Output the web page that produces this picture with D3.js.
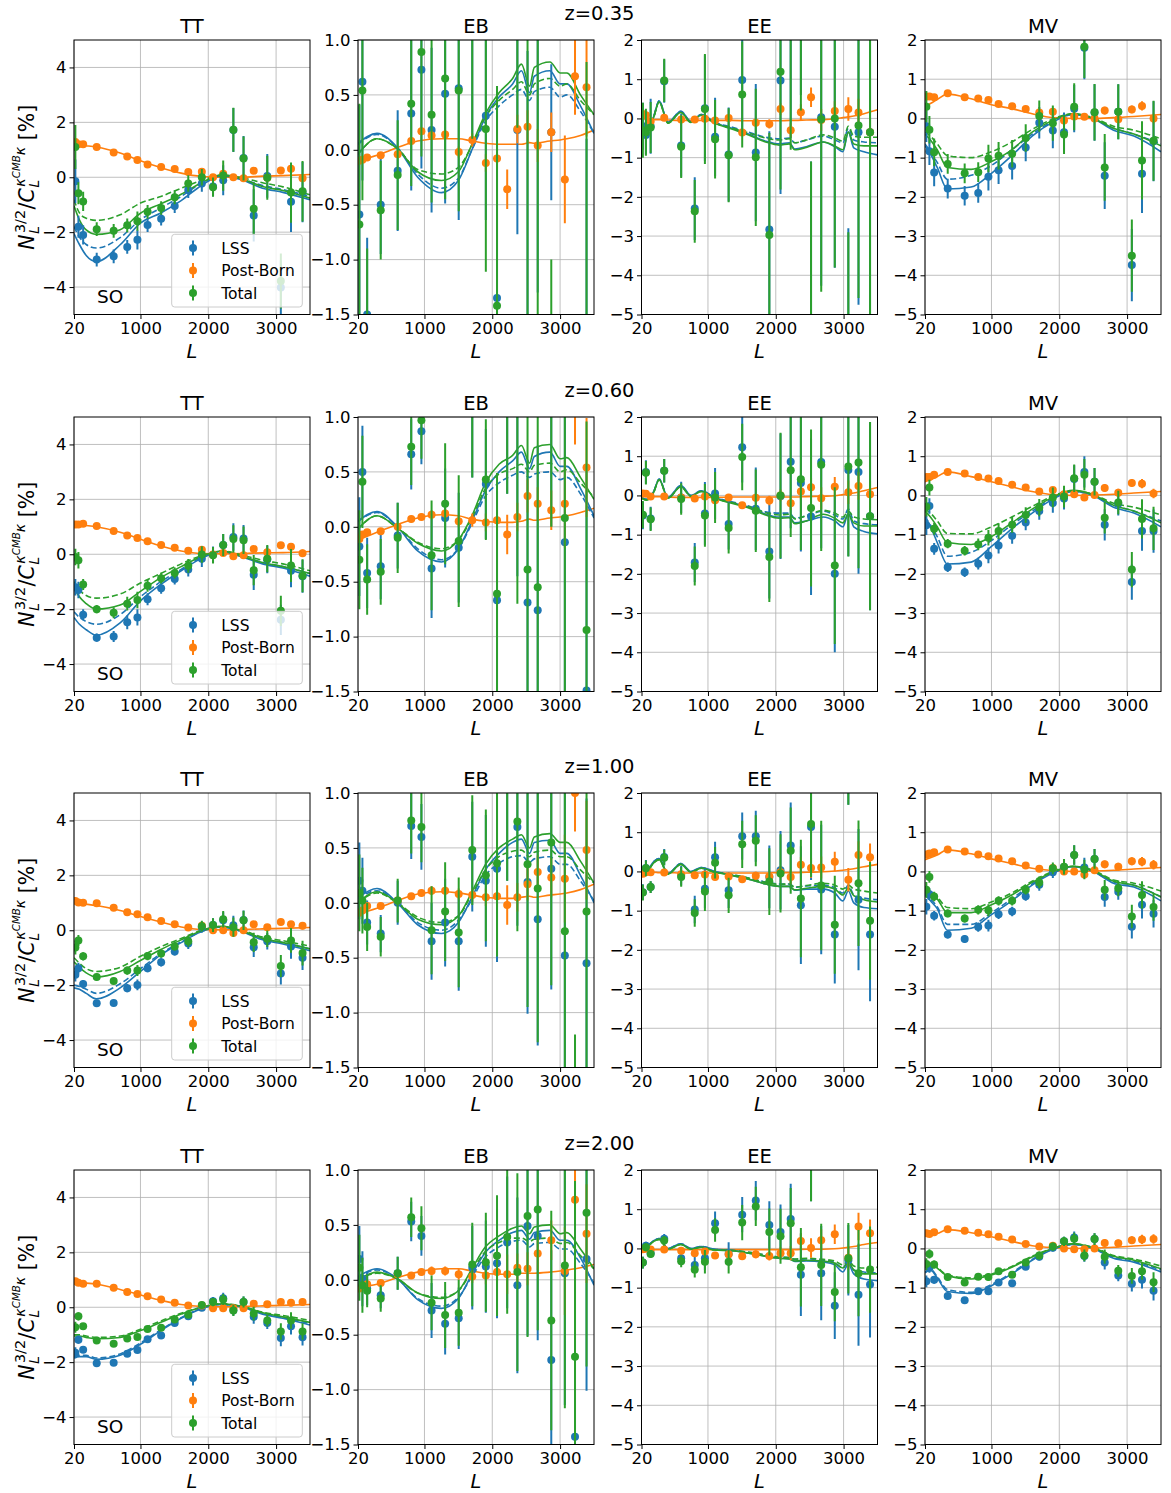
<!DOCTYPE html>
<html>
<head>
<meta charset="utf-8">
<script src="https://cdn.jsdelivr.net/npm/d3@7"></script>
<style>
  body { margin: 0; background: #fff; }
  svg { display: block; }
  text { font-family: "DejaVu Sans", sans-serif; fill: #000; }
</style>
</head>
<body>
<svg id="fig" width="1171" height="1493"></svg>
<script>
// ---------------------------------------------------------------------------
// Binned multipoles and theory-curve sampling points
// ---------------------------------------------------------------------------
const L_BINS = [40, 85, 155, 355, 605, 805, 955, 1105, 1305, 1505, 1705, 1905, 2070, 2220, 2370, 2520, 2670, 2870, 3070, 3220, 3390];
const KNOTS_SMOOTH = [20, 100, 200, 350, 700, 1000, 1300, 1600, 1900, 2200, 2500, 2800, 3100, 3500];
const KNOTS_EB = [20, 300, 600, 900, 1250, 1500, 1700, 1900, 2100, 2300, 2430, 2550, 2620, 2850, 3000, 3100, 3300, 3500];
const KNOTS_EE = [20, 100, 200, 280, 410, 600, 750, 900, 1100, 1350, 1600, 1850, 2050, 2200, 2280, 2450, 2700, 2870, 2990, 3070, 3150, 3300, 3500];

const REDSHIFTS = ["0.35", "0.60", "1.00", "2.00"];
const ESTIMATORS = ["TT", "EB", "EE", "MV"];
const X_TICKS = [20, 1000, 2000, 3000];
const Y_TICKS_TT = [-4, -2, 0, 2, 4];
const Y_TICKS_EB = [-1.5, -1.0, -0.5, 0.0, 0.5, 1.0];
const Y_TICKS_POL = [-5, -4, -3, -2, -1, 0, 1, 2];
const SERIES_LABELS = ["LSS", "Post-Born", "Total"];
const EXPERIMENT = "SO";

// Post-Born error bars per estimator
const PB_ERR_TT = [0.04, 0.04, 0.04, 0.04, 0.04, 0.04, 0.05, 0.05, 0.05, 0.05, 0.06, 0.06, 0.07, 0.08, 0.09, 0.1, 0.1, 0.1, 0.12, 0.12, 0.13];
const PB_ERR_EB = [0.02, 0.02, 0.02, 0.02, 0.03, 0.03, 0.03, 0.04, 0.04, 0.05, 0.06, 0.08, 0.1, 0.18, 0.13, 0.15, 0.15, 0.18, 0.4, 0.35, 0.45];
const PB_ERR_EE = [0.03, 0.03, 0.03, 0.03, 0.04, 0.05, 0.05, 0.06, 0.07, 0.08, 0.1, 0.12, 0.15, 0.18, 0.2, 0.25, 0.28, 0.25, 0.3, 0.35, 0.35];
const PB_ERR_MV = [0.03, 0.03, 0.03, 0.03, 0.03, 0.04, 0.04, 0.04, 0.05, 0.05, 0.06, 0.07, 0.07, 0.08, 0.08, 0.08, 0.1, 0.1, 0.1, 0.12, 0.12];

// ------------------------------- z = 0.35 ----------------------------------
const TT_z035_lss = [-0.15, -1.8, -2.1, -3.0, -2.88, -2.54, -2.28, -1.74, -1.51, -1.05, -0.46, -0.23, -0.34, -0.11, 1.72, 0.7, -1.39, 0.05, -4.02, -0.89, -0.54];
const TT_z035_tot = [1.1, -0.58, -0.88, -1.89, -1.95, -1.75, -1.6, -1.26, -1.12, -0.73, -0.23, 0.0, -0.36, 0.06, 1.73, 0.68, -1.15, -0.02, -3.78, -0.56, -0.51];
const TT_z035_err = [0.8, 0.4, 0.35, 0.25, 0.25, 0.25, 0.35, 0.25, 0.25, 0.25, 0.3, 0.3, 0.35, 0.55, 0.8, 0.8, 0.95, 0.8, 1.0, 1.1, 1.1];
const TT_z035_pb = [1.28, 1.2, 1.2, 1.1, 0.9, 0.76, 0.63, 0.46, 0.37, 0.3, 0.19, 0.2, 0.0, 0.13, 0.0, -0.04, 0.24, -0.02, 0.25, 0.31, -0.04];
const TT_z035_pbLine = [1.2, 1.18, 1.15, 1.1, 0.88, 0.6, 0.35, 0.15, 0.03, 0.0, 0.0, 0.04, 0.06, 0.1];
const TT_z035_lssLine = [-2.05, -2.45, -2.85, -3.07, -2.46, -1.67, -1.3, -0.85, -0.3, 0.06, -0.1, -0.4, -0.55, -0.82];
const TT_z035_lssDash = [-1.8, -2.18, -2.45, -2.58, -2.2, -1.55, -1.12, -0.7, -0.22, 0.06, -0.07, -0.3, -0.45, -0.7];
const TT_z035_totLine = [-1.04, -1.55, -1.92, -2.08, -1.91, -1.31, -0.97, -0.62, -0.2, 0.08, -0.06, -0.34, -0.48, -0.76];
const TT_z035_totDash = [-0.82, -1.3, -1.49, -1.57, -1.37, -0.94, -0.7, -0.4, -0.12, 0.08, -0.02, -0.2, -0.35, -0.64];

const EB_z035_lss = [-0.59, 0.62, -1.5, -0.5, -0.19, 0.33, 0.73, 0.18, 0.51, 0.56, 1.6, 0.31, -1.35, 2.3, 0.18, -1.6, 1.7, 0.16, -2.2, 2.0, -1.9];
const EB_z035_lssErr = [1.0, 0.9, 0.7, 0.45, 0.55, 0.7, 0.9, 0.75, 1.0, 1.2, 1.5, 0.95, 1.9, 1.0, 0.95, 2.5, 3.0, 0.62, 0.5, 0.5, 2.0];
const EB_z035_tot = [-0.68, 0.54, -1.9, -0.55, -0.23, 0.42, 0.89, 0.32, 0.65, 0.54, 1.7, 0.19, -1.42, 2.5, 2.3, -1.8, 1.9, -2.0, -2.3, 2.1, -1.8];
const EB_z035_totErr = [1.1, 1.0, 1.0, 0.45, 0.5, 0.75, 0.95, 0.8, 1.1, 1.1, 1.6, 1.3, 2.0, 1.0, 2.1, 3.0, 3.5, 1.0, 0.6, 0.5, 2.6];
const EB_z035_pb = [-0.1, -0.09, -0.07, -0.05, -0.04, 0.08, 0.17, 0.13, 0.14, -0.02, 0.09, -0.12, -0.08, -0.36, 0.19, 0.21, 0.04, 0.16, -0.27, 0.67, 0.57];
const EB_z035_pbLine = [-0.1, -0.05, 0.02, 0.08, 0.1, 0.1, 0.08, 0.06, 0.05, 0.05, 0.05, 0.065, 0.06, 0.08, 0.09, 0.1, 0.13, 0.18];
const EB_z035_lssLine = [0.06, 0.15, 0.02, -0.25, -0.39, -0.28, 0.0, 0.3, 0.48, 0.6, 0.72, 0.52, 0.67, 0.72, 0.6, 0.6, 0.4, 0.15];
const EB_z035_lssDash = [0.05, 0.14, 0.02, -0.22, -0.35, -0.26, 0.0, 0.26, 0.4, 0.5, 0.55, 0.45, 0.53, 0.57, 0.48, 0.5, 0.35, 0.15];
const EB_z035_totLine = [-0.04, 0.1, 0.01, -0.2, -0.28, -0.2, 0.05, 0.33, 0.52, 0.65, 0.78, 0.58, 0.75, 0.8, 0.7, 0.7, 0.5, 0.32];
const EB_z035_totDash = [-0.04, 0.1, 0.01, -0.18, -0.22, -0.16, 0.04, 0.3, 0.45, 0.55, 0.62, 0.5, 0.6, 0.65, 0.58, 0.6, 0.45, 0.32];

const EE_z035_lss = [-0.2, -0.42, -0.2, 0.95, -0.69, -2.3, 0.26, -0.47, -0.92, 0.98, -0.87, -2.83, 0.97, 3.5, 2.5, -5.5, 0.03, -0.21, -6.0, -0.35, -0.35];
const EE_z035_lssErr = [0.6, 0.5, 0.7, 0.55, 0.8, 0.8, 1.35, 1.0, 1.2, 1.3, 1.75, 2.5, 2.9, 4.0, 1.9, 4.4, 4.3, 3.6, 3.2, 4.4, 6.0];
const EE_z035_tot = [-0.3, -0.35, -0.23, 0.97, -0.72, -2.37, 0.24, -0.53, -0.94, 0.61, -0.99, -2.97, 1.19, 3.2, 3.0, -5.5, -0.02, 0.0, -6.2, -0.18, -0.35];
const EE_z035_totErr = [0.7, 0.6, 0.65, 0.55, 0.8, 0.8, 1.4, 1.0, 1.2, 1.35, 1.75, 2.6, 3.0, 4.0, 2.8, 4.4, 4.4, 3.8, 3.3, 4.4, 6.0];
const EE_z035_pb = [0.11, 0.08, -0.08, 0.02, -0.03, -0.03, -0.01, -0.05, 0.01, -0.36, -0.11, -0.14, 0.24, -0.3, 0.16, 0.54, -0.04, 0.19, 0.24, 0.15, -0.35];
const EE_z035_pbLine = [0.0, -0.02, -0.03, -0.03, -0.04, -0.05, -0.05, -0.05, -0.05, -0.05, -0.06, -0.06, -0.06, -0.05, -0.05, -0.04, -0.03, -0.01, 0.02, 0.04, 0.06, 0.12, 0.22];
const EE_z035_lssLine = [-0.1, -0.3, 0.05, 0.45, -0.1, 0.18, -0.08, 0.1, -0.1, -0.25, -0.4, -0.58, -0.65, -0.62, -0.78, -0.72, -0.6, -0.72, -0.85, -0.35, -0.75, -0.85, -0.93];
const EE_z035_lssDash = [-0.1, -0.3, 0.05, 0.45, -0.1, 0.18, -0.08, 0.1, -0.1, -0.22, -0.35, -0.48, -0.52, -0.5, -0.62, -0.55, -0.45, -0.55, -0.62, -0.25, -0.55, -0.6, -0.62];
const EE_z035_totLine = [-0.12, -0.32, 0.03, 0.42, -0.12, 0.15, -0.1, 0.08, -0.12, -0.27, -0.42, -0.6, -0.68, -0.65, -0.8, -0.74, -0.6, -0.7, -0.8, -0.35, -0.65, -0.7, -0.7];
const EE_z035_totDash = [-0.12, -0.32, 0.03, 0.42, -0.12, 0.15, -0.1, 0.08, -0.12, -0.24, -0.37, -0.5, -0.55, -0.52, -0.62, -0.55, -0.42, -0.5, -0.58, -0.2, -0.45, -0.48, -0.48];

const MV_z035_lss = [-0.2, -0.84, -1.38, -1.79, -1.97, -1.9, -1.49, -1.32, -1.21, -0.74, -0.11, -0.31, -0.35, 0.25, 1.8, 0.15, -1.46, 0.17, -3.74, -1.41, -0.58];
const MV_z035_tot = [0.3, -0.29, -0.86, -1.16, -1.4, -1.37, -1.02, -0.95, -0.9, -0.5, 0.06, -0.12, -0.41, 0.3, 1.83, 0.16, -1.25, 0.17, -3.5, -1.07, -0.57];
const MV_z035_err = [0.4, 0.35, 0.35, 0.25, 0.25, 0.25, 0.35, 0.35, 0.35, 0.35, 0.4, 0.45, 0.5, 0.6, 0.8, 0.72, 0.85, 0.7, 0.92, 1.0, 1.02];
const MV_z035_pb = [0.56, 0.56, 0.54, 0.64, 0.54, 0.51, 0.47, 0.37, 0.31, 0.24, 0.15, 0.17, -0.05, 0.05, 0.04, 0.0, 0.2, -0.02, 0.23, 0.32, 0.0];
const MV_z035_pbLine = [0.3, 0.38, 0.48, 0.62, 0.5, 0.35, 0.25, 0.12, 0.02, 0.0, 0.0, 0.02, 0.05, 0.1];
const MV_z035_lssLine = [-0.7, -0.9, -1.25, -1.8, -1.75, -1.4, -0.95, -0.45, -0.1, 0.1, 0.0, -0.3, -0.45, -0.85];
const MV_z035_lssDash = [-0.65, -0.85, -1.12, -1.55, -1.45, -1.2, -0.8, -0.4, -0.08, 0.1, 0.0, -0.25, -0.4, -0.65];
const MV_z035_totLine = [-0.4, -0.55, -0.8, -1.25, -1.3, -1.1, -0.8, -0.35, -0.05, 0.12, 0.0, -0.25, -0.4, -0.7];
const MV_z035_totDash = [-0.35, -0.45, -0.65, -0.95, -1.0, -0.85, -0.6, -0.28, -0.02, 0.12, 0.02, -0.2, -0.3, -0.52];

// ------------------------------- z = 0.60 ----------------------------------
const TT_z060_lss = [-1.2, -1.3, -2.2, -3.04, -3.0, -2.48, -2.3, -1.64, -1.24, -0.9, -0.56, -0.16, -0.02, 0.34, 0.63, 0.57, -0.75, -0.19, -2.39, -0.6, -0.8];
const TT_z060_tot = [-0.1, -0.22, -1.1, -2.0, -2.13, -1.8, -1.67, -1.15, -0.87, -0.68, -0.42, -0.01, -0.04, 0.34, 0.56, 0.51, -0.58, -0.16, -2.06, -0.41, -0.78];
const TT_z060_err = [0.3, 0.3, 0.2, 0.15, 0.2, 0.25, 0.3, 0.22, 0.2, 0.2, 0.25, 0.3, 0.3, 0.4, 0.5, 0.5, 0.55, 0.5, 0.55, 0.6, 0.6];
const TT_z060_pb = [1.08, 1.08, 1.11, 1.03, 0.85, 0.68, 0.59, 0.47, 0.34, 0.24, 0.13, 0.16, -0.01, 0.05, -0.07, -0.04, 0.19, 0.07, 0.33, 0.27, 0.04];
const TT_z060_pbLine = [1.1, 1.08, 1.05, 1.0, 0.8, 0.55, 0.3, 0.12, 0.03, 0.02, 0.03, 0.05, 0.06, 0.1];
const TT_z060_lssLine = [-2.3, -2.55, -2.75, -2.95, -2.5, -1.7, -1.1, -0.6, -0.15, 0.1, -0.1, -0.35, -0.5, -0.8];
const TT_z060_lssDash = [-2.1, -2.3, -2.45, -2.55, -2.2, -1.55, -1.0, -0.55, -0.12, 0.1, -0.08, -0.3, -0.45, -0.7];
const TT_z060_totLine = [-1.2, -1.55, -1.8, -2.0, -1.85, -1.35, -0.85, -0.45, -0.08, 0.12, -0.08, -0.3, -0.45, -0.7];
const TT_z060_totDash = [-1.0, -1.3, -1.5, -1.6, -1.45, -1.05, -0.7, -0.35, -0.05, 0.12, -0.03, -0.22, -0.35, -0.6];

const EB_z060_lss = [-0.18, 0.5, -0.42, -0.36, -0.08, 0.66, 0.87, -0.38, 0.08, -0.19, 1.3, 0.39, -0.67, 1.8, 1.6, -0.69, -0.76, 2.0, -0.14, 2.0, -1.49];
const EB_z060_lssErr = [0.45, 0.42, 0.32, 0.3, 0.3, 0.32, 0.3, 0.45, 0.45, 0.5, 0.85, 0.5, 1.0, 1.5, 2.05, 1.3, 1.5, 2.0, 1.8, 0.5, 2.0];
const EB_z060_tot = [-0.3, 0.41, -0.48, -0.41, -0.1, 0.73, 0.97, -0.26, 0.21, -0.13, 1.35, 0.43, -0.61, 1.9, 1.8, -0.39, -0.55, 2.2, 0.08, 2.1, -0.94];
const EB_z060_totErr = [0.45, 0.42, 0.32, 0.3, 0.32, 0.35, 0.35, 0.5, 0.55, 0.6, 0.9, 0.55, 1.1, 1.6, 2.5, 1.5, 1.6, 2.2, 1.8, 0.5, 1.9];
const EB_z060_pb = [-0.11, -0.07, -0.05, -0.04, 0.0, 0.07, 0.09, 0.11, 0.12, 0.05, 0.06, 0.04, 0.06, -0.07, 0.09, 0.28, 0.21, 0.15, 0.21, 1.1, 0.54];
const EB_z060_pbLine = [-0.12, -0.05, 0.02, 0.08, 0.11, 0.1, 0.07, 0.05, 0.04, 0.04, 0.05, 0.07, 0.06, 0.08, 0.09, 0.1, 0.13, 0.17];
const EB_z060_lssLine = [0.05, 0.14, 0.0, -0.22, -0.32, -0.2, 0.05, 0.33, 0.5, 0.6, 0.68, 0.53, 0.64, 0.68, 0.55, 0.55, 0.35, 0.1];
const EB_z060_lssDash = [0.05, 0.13, 0.0, -0.2, -0.3, -0.2, 0.03, 0.28, 0.4, 0.47, 0.5, 0.45, 0.48, 0.5, 0.43, 0.45, 0.3, 0.08];
const EB_z060_totLine = [-0.02, 0.1, -0.01, -0.15, -0.22, -0.12, 0.1, 0.4, 0.57, 0.65, 0.74, 0.58, 0.72, 0.75, 0.62, 0.63, 0.45, 0.25];
const EB_z060_totDash = [-0.02, 0.1, -0.01, -0.14, -0.2, -0.12, 0.08, 0.35, 0.48, 0.53, 0.57, 0.5, 0.56, 0.58, 0.5, 0.52, 0.4, 0.27];

const EE_z060_lss = [-0.51, 0.6, -0.59, 0.63, -0.05, -1.71, -0.46, 0.05, -0.73, 1.23, -0.34, -1.43, -0.02, 0.86, 0.32, -0.54, 0.85, -2.0, 0.65, 0.6, -0.53];
const EE_z060_lssErr = [0.35, 0.3, 0.3, 0.3, 0.4, 0.5, 0.8, 0.65, 0.65, 0.9, 1.05, 1.2, 1.6, 1.7, 1.75, 2.0, 2.2, 2.0, 2.2, 2.6, 2.4];
const EE_z060_tot = [-0.49, 0.58, -0.61, 0.63, -0.09, -1.8, -0.51, -0.05, -0.83, 0.98, -0.39, -1.57, 0.0, 0.64, 0.41, -0.32, 0.78, -1.79, 0.74, 0.84, -0.53];
const EE_z060_totErr = [0.35, 0.3, 0.3, 0.3, 0.4, 0.5, 0.8, 0.65, 0.65, 0.85, 1.05, 1.15, 1.6, 1.7, 1.8, 2.0, 2.2, 2.0, 2.3, 2.7, 2.4];
const EE_z060_pb = [0.05, 0.04, -0.03, -0.03, -0.05, -0.08, -0.03, -0.12, -0.05, -0.25, -0.06, -0.13, 0.0, -0.2, 0.1, 0.21, -0.07, 0.22, 0.08, 0.24, 0.03];
const EE_z060_pbLine = [-0.02, -0.02, -0.03, -0.03, -0.04, -0.05, -0.05, -0.05, -0.05, -0.04, -0.04, -0.04, -0.04, -0.04, -0.04, -0.03, -0.02, -0.01, 0.02, 0.04, 0.06, 0.12, 0.2];
const EE_z060_lssLine = [-0.05, -0.1, 0.1, 0.42, -0.05, 0.25, 0.0, 0.12, -0.05, -0.18, -0.3, -0.48, -0.55, -0.55, -0.7, -0.65, -0.55, -0.65, -0.8, -0.45, -0.8, -0.92, -0.98];
const EE_z060_lssDash = [-0.05, -0.1, 0.1, 0.42, -0.05, 0.25, 0.0, 0.12, -0.05, -0.16, -0.27, -0.42, -0.45, -0.45, -0.58, -0.52, -0.4, -0.5, -0.6, -0.35, -0.65, -0.72, -0.75];
const EE_z060_totLine = [-0.07, -0.12, 0.08, 0.4, -0.07, 0.22, -0.02, 0.1, -0.07, -0.2, -0.32, -0.5, -0.58, -0.57, -0.72, -0.65, -0.48, -0.58, -0.7, -0.48, -0.7, -0.78, -0.78];
const EE_z060_totDash = [-0.07, -0.12, 0.08, 0.4, -0.07, 0.22, -0.02, 0.1, -0.07, -0.18, -0.28, -0.44, -0.5, -0.48, -0.6, -0.52, -0.38, -0.45, -0.55, -0.4, -0.55, -0.6, -0.62];

const MV_z060_lss = [-0.76, -0.27, -1.36, -1.83, -1.96, -1.74, -1.53, -1.28, -1.03, -0.69, -0.4, -0.19, -0.08, 0.42, 0.6, 0.35, -0.75, -0.21, -2.21, -0.91, -0.91];
const MV_z060_tot = [-0.29, 0.2, -0.85, -1.23, -1.41, -1.25, -1.08, -0.91, -0.75, -0.5, -0.31, -0.05, -0.03, 0.44, 0.53, 0.35, -0.57, -0.18, -1.89, -0.6, -0.84];
const MV_z060_err = [0.25, 0.2, 0.15, 0.12, 0.12, 0.15, 0.2, 0.2, 0.2, 0.2, 0.22, 0.25, 0.28, 0.35, 0.4, 0.35, 0.4, 0.3, 0.45, 0.5, 0.55];
const MV_z060_pb = [0.47, 0.47, 0.53, 0.6, 0.56, 0.47, 0.43, 0.37, 0.27, 0.2, 0.1, 0.14, 0.03, 0.03, -0.05, 0.01, 0.19, 0.07, 0.32, 0.3, 0.05];
const MV_z060_pbLine = [0.35, 0.4, 0.48, 0.6, 0.48, 0.35, 0.22, 0.1, 0.02, 0.0, 0.01, 0.03, 0.06, 0.1];
const MV_z060_lssLine = [-0.6, -0.8, -1.2, -1.75, -1.7, -1.3, -0.85, -0.45, -0.1, 0.1, 0.0, -0.3, -0.45, -0.8];
const MV_z060_lssDash = [-0.55, -0.75, -1.05, -1.55, -1.45, -1.15, -0.75, -0.4, -0.08, 0.1, 0.0, -0.25, -0.4, -0.65];
const MV_z060_totLine = [-0.4, -0.55, -0.8, -1.2, -1.25, -1.05, -0.7, -0.35, -0.05, 0.13, 0.02, -0.25, -0.4, -0.7];
const MV_z060_totDash = [-0.35, -0.45, -0.65, -0.97, -0.98, -0.8, -0.55, -0.28, -0.02, 0.12, 0.03, -0.2, -0.3, -0.5];

// ------------------------------- z = 1.00 ----------------------------------
const TT_z100_lss = [-1.62, -1.38, -1.96, -2.66, -2.65, -2.11, -1.99, -1.38, -1.17, -0.77, -0.48, 0.11, 0.19, 0.36, 0.18, 0.37, -0.62, -0.4, -1.58, -0.59, -1.0];
const TT_z100_tot = [-0.63, -0.37, -0.95, -1.7, -1.85, -1.47, -1.47, -0.94, -0.85, -0.59, -0.4, 0.15, 0.19, 0.4, 0.11, 0.36, -0.44, -0.31, -1.3, -0.37, -0.83];
const TT_z100_err = [0.25, 0.2, 0.15, 0.12, 0.12, 0.15, 0.2, 0.15, 0.15, 0.15, 0.2, 0.2, 0.25, 0.3, 0.35, 0.35, 0.35, 0.3, 0.4, 0.45, 0.45];
const TT_z100_pb = [1.07, 1.01, 1.0, 0.98, 0.82, 0.66, 0.58, 0.47, 0.34, 0.22, 0.1, 0.16, 0.0, 0.0, -0.1, 0.0, 0.22, 0.11, 0.3, 0.22, 0.16];
const TT_z100_pbLine = [1.0, 0.98, 0.95, 0.9, 0.72, 0.5, 0.3, 0.12, 0.03, 0.02, 0.03, 0.05, 0.07, 0.1];
const TT_z100_lssLine = [-2.1, -2.15, -2.3, -2.5, -2.1, -1.5, -0.9, -0.45, -0.05, 0.12, -0.05, -0.35, -0.5, -0.75];
const TT_z100_lssDash = [-2.0, -2.05, -2.15, -2.3, -1.95, -1.4, -0.85, -0.42, -0.05, 0.12, -0.05, -0.3, -0.45, -0.68];
const TT_z100_totLine = [-1.15, -1.35, -1.55, -1.7, -1.5, -1.1, -0.7, -0.35, -0.02, 0.14, -0.03, -0.3, -0.45, -0.68];
const TT_z100_totDash = [-1.0, -1.2, -1.4, -1.5, -1.35, -0.95, -0.6, -0.3, 0.0, 0.14, 0.0, -0.25, -0.38, -0.58];

const EB_z100_lss = [0.2, 0.11, -0.18, -0.28, 0.0, 0.7, 0.6, -0.35, -0.18, -0.35, 0.42, 0.2, 0.31, 1.2, 0.69, 0.19, -0.15, 0.31, -0.48, -2.3, -0.55];
const EB_z100_lssErr = [0.35, 0.3, 0.2, 0.17, 0.2, 0.3, 0.3, 0.35, 0.4, 0.45, 0.5, 0.6, 0.85, 1.0, 0.9, 1.2, 1.15, 1.1, 1.5, 1.05, 1.5];
const EB_z100_tot = [0.09, 0.02, -0.22, -0.31, 0.02, 0.75, 0.69, -0.25, -0.08, -0.27, 0.48, 0.25, 0.36, 1.3, 0.74, 0.35, 0.13, 0.55, -0.26, -2.2, -0.08];
const EB_z100_totErr = [0.35, 0.3, 0.22, 0.18, 0.2, 0.3, 0.32, 0.4, 0.45, 0.5, 0.5, 0.6, 0.85, 1.1, 1.0, 1.3, 1.4, 1.3, 1.6, 1.0, 1.6];
const EB_z100_pb = [-0.09, -0.07, -0.03, -0.03, 0.02, 0.06, 0.09, 0.11, 0.11, 0.08, 0.07, 0.05, 0.06, -0.02, 0.05, 0.17, 0.28, 0.23, 0.22, 1.0, 0.48];
const EB_z100_pbLine = [-0.1, -0.05, 0.02, 0.08, 0.1, 0.09, 0.07, 0.05, 0.04, 0.04, 0.05, 0.06, 0.05, 0.07, 0.08, 0.09, 0.12, 0.17];
const EB_z100_lssLine = [0.05, 0.13, 0.0, -0.2, -0.28, -0.18, 0.05, 0.3, 0.45, 0.55, 0.58, 0.45, 0.55, 0.57, 0.45, 0.45, 0.25, 0.0];
const EB_z100_lssDash = [0.04, 0.11, 0.0, -0.18, -0.25, -0.16, 0.03, 0.25, 0.36, 0.42, 0.43, 0.37, 0.4, 0.42, 0.35, 0.35, 0.2, 0.02];
const EB_z100_totLine = [0.0, 0.1, 0.0, -0.15, -0.2, -0.12, 0.1, 0.35, 0.5, 0.58, 0.62, 0.5, 0.6, 0.63, 0.55, 0.55, 0.38, 0.18];
const EB_z100_totDash = [0.0, 0.09, 0.0, -0.13, -0.18, -0.12, 0.08, 0.3, 0.42, 0.47, 0.48, 0.42, 0.46, 0.48, 0.42, 0.42, 0.3, 0.18];

const EE_z100_lss = [-0.53, 0.09, -0.4, 0.37, -0.11, -0.97, -0.44, 0.36, -0.48, 0.9, 0.9, -0.14, 0.03, 0.66, -0.86, 1.13, -0.46, -1.61, 3.0, -0.72, -1.61];
const EE_z100_lssErr = [0.2, 0.2, 0.15, 0.2, 0.25, 0.35, 0.5, 0.4, 0.45, 0.6, 0.65, 0.8, 1.0, 1.1, 1.5, 1.35, 1.65, 1.25, 1.3, 1.8, 1.7];
const EE_z100_tot = [-0.54, 0.08, -0.4, 0.35, -0.14, -1.06, -0.51, 0.22, -0.61, 0.69, 0.78, -0.26, -0.05, 0.53, -0.69, 1.21, -0.36, -1.36, 3.0, -0.3, -1.26];
const EE_z100_totErr = [0.2, 0.2, 0.15, 0.2, 0.25, 0.35, 0.5, 0.4, 0.45, 0.6, 0.65, 0.85, 1.0, 1.1, 1.5, 1.35, 1.65, 1.25, 1.3, 1.6, 1.5];
const EE_z100_pb = [-0.06, -0.02, -0.02, -0.03, -0.07, -0.1, -0.08, -0.14, -0.13, -0.2, -0.11, -0.13, -0.02, -0.14, 0.17, 0.09, 0.1, 0.25, -0.21, 0.42, 0.36];
const EE_z100_pbLine = [-0.02, -0.02, -0.02, -0.03, -0.03, -0.04, -0.04, -0.04, -0.04, -0.04, -0.04, -0.04, -0.03, -0.03, -0.03, -0.02, -0.01, 0.01, 0.03, 0.05, 0.07, 0.12, 0.18];
const EE_z100_lssLine = [-0.05, 0.0, 0.25, 0.33, -0.05, 0.2, 0.0, 0.1, 0.0, -0.1, -0.2, -0.32, -0.38, -0.38, -0.48, -0.45, -0.45, -0.55, -0.75, -0.5, -0.8, -0.92, -0.95];
const EE_z100_lssDash = [-0.05, 0.0, 0.25, 0.33, -0.05, 0.2, 0.0, 0.1, 0.0, -0.08, -0.17, -0.27, -0.32, -0.32, -0.4, -0.37, -0.35, -0.42, -0.55, -0.35, -0.6, -0.68, -0.72];
const EE_z100_totLine = [-0.07, -0.02, 0.22, 0.3, -0.07, 0.18, -0.02, 0.08, -0.02, -0.1, -0.2, -0.32, -0.38, -0.38, -0.47, -0.43, -0.38, -0.45, -0.6, -0.42, -0.62, -0.72, -0.78];
const EE_z100_totDash = [-0.07, -0.02, 0.22, 0.3, -0.07, 0.18, -0.02, 0.08, -0.02, -0.08, -0.17, -0.28, -0.33, -0.32, -0.4, -0.36, -0.3, -0.35, -0.45, -0.35, -0.45, -0.5, -0.55];

const MV_z100_lss = [-0.9, -0.58, -1.13, -1.61, -1.72, -1.42, -1.38, -1.09, -1.02, -0.63, -0.34, -0.02, 0.11, 0.42, 0.1, 0.32, -0.65, -0.52, -1.41, -0.85, -1.08];
const MV_z100_tot = [-0.47, -0.14, -0.64, -1.07, -1.2, -0.98, -0.99, -0.75, -0.75, -0.47, -0.28, 0.08, 0.12, 0.42, 0.05, 0.32, -0.47, -0.43, -1.15, -0.6, -0.91];
const MV_z100_err = [0.2, 0.15, 0.12, 0.1, 0.1, 0.12, 0.15, 0.12, 0.12, 0.12, 0.15, 0.15, 0.2, 0.25, 0.25, 0.25, 0.25, 0.2, 0.3, 0.35, 0.35];
const MV_z100_pb = [0.43, 0.46, 0.49, 0.56, 0.51, 0.43, 0.39, 0.33, 0.26, 0.15, 0.07, 0.09, 0.0, 0.0, -0.08, 0.03, 0.18, 0.12, 0.26, 0.25, 0.17];
const MV_z100_pbLine = [0.3, 0.35, 0.42, 0.55, 0.45, 0.32, 0.2, 0.08, 0.02, 0.0, 0.01, 0.03, 0.06, 0.1];
const MV_z100_lssLine = [-0.6, -0.75, -0.95, -1.5, -1.45, -1.1, -0.75, -0.35, -0.05, 0.12, 0.0, -0.3, -0.4, -0.75];
const MV_z100_lssDash = [-0.55, -0.7, -0.9, -1.35, -1.35, -1.05, -0.7, -0.32, -0.03, 0.12, 0.0, -0.27, -0.35, -0.65];
const MV_z100_totLine = [-0.45, -0.55, -0.7, -1.05, -1.05, -0.85, -0.6, -0.28, -0.02, 0.13, 0.02, -0.25, -0.35, -0.65];
const MV_z100_totDash = [-0.42, -0.5, -0.65, -0.92, -0.95, -0.78, -0.55, -0.25, 0.0, 0.13, 0.03, -0.22, -0.3, -0.5];

// ------------------------------- z = 2.00 ----------------------------------
const TT_z200_lss = [-1.66, -1.18, -1.55, -2.04, -2.02, -1.69, -1.56, -1.17, -1.03, -0.57, -0.33, -0.02, 0.22, 0.33, -0.11, 0.19, -0.35, -0.57, -1.12, -0.69, -1.09];
const TT_z200_tot = [-0.73, -0.33, -0.69, -1.21, -1.33, -1.14, -1.08, -0.79, -0.75, -0.45, -0.27, 0.08, 0.19, 0.28, -0.12, 0.19, -0.23, -0.48, -0.88, -0.48, -0.88];
const TT_z200_err = [0.2, 0.15, 0.12, 0.1, 0.1, 0.1, 0.1, 0.1, 0.1, 0.1, 0.12, 0.12, 0.15, 0.2, 0.2, 0.2, 0.25, 0.22, 0.3, 0.3, 0.3];
const TT_z200_pb = [0.95, 0.89, 0.86, 0.86, 0.71, 0.56, 0.48, 0.4, 0.28, 0.16, 0.06, 0.06, -0.04, -0.04, -0.04, -0.04, 0.13, 0.11, 0.19, 0.16, 0.19];
const TT_z200_pbLine = [0.92, 0.9, 0.88, 0.84, 0.65, 0.45, 0.25, 0.1, 0.03, 0.02, 0.03, 0.05, 0.07, 0.1];
const TT_z200_lssLine = [-1.85, -1.8, -1.8, -1.9, -1.75, -1.35, -0.85, -0.4, -0.05, 0.1, 0.0, -0.25, -0.4, -0.65];
const TT_z200_lssDash = [-1.8, -1.75, -1.75, -1.85, -1.7, -1.3, -0.82, -0.38, -0.04, 0.1, 0.0, -0.22, -0.37, -0.6];
const TT_z200_totLine = [-1.05, -1.05, -1.1, -1.15, -1.1, -0.85, -0.55, -0.25, 0.0, 0.13, 0.03, -0.2, -0.35, -0.55];
const TT_z200_totDash = [-1.0, -1.0, -1.05, -1.1, -1.05, -0.8, -0.5, -0.22, 0.0, 0.13, 0.04, -0.18, -0.3, -0.48];

const EB_z200_lss = [0.19, 0.01, -0.08, -0.14, 0.06, 0.53, 0.4, -0.28, -0.4, -0.35, 0.11, 0.12, 0.15, 0.34, -0.05, 0.49, 0.4, -0.73, 0.06, -1.43, 0.19];
const EB_z200_lssErr = [0.3, 0.25, 0.15, 0.12, 0.15, 0.18, 0.18, 0.25, 0.28, 0.28, 0.38, 0.42, 0.5, 0.6, 0.8, 1.0, 0.95, 1.0, 1.2, 1.6, 1.2];
const EB_z200_tot = [0.11, -0.05, -0.1, -0.17, 0.06, 0.57, 0.47, -0.21, -0.32, -0.3, 0.14, 0.16, 0.22, 0.39, 0.07, 0.58, 0.64, -0.37, 0.13, -0.7, 0.61];
const EB_z200_totErr = [0.3, 0.25, 0.15, 0.12, 0.15, 0.18, 0.2, 0.25, 0.3, 0.3, 0.38, 0.45, 0.55, 0.7, 0.9, 1.1, 1.1, 1.0, 1.3, 1.6, 1.4];
const EB_z200_pb = [-0.08, -0.06, -0.04, -0.03, 0.05, 0.04, 0.07, 0.08, 0.08, 0.05, 0.03, 0.04, 0.07, 0.05, 0.11, 0.1, 0.24, 0.36, 0.08, 0.73, 0.42];
const EB_z200_pbLine = [-0.07, -0.04, 0.02, 0.07, 0.1, 0.1, 0.08, 0.06, 0.05, 0.05, 0.06, 0.06, 0.06, 0.07, 0.08, 0.09, 0.11, 0.14];
const EB_z200_lssLine = [0.03, 0.1, 0.01, -0.18, -0.26, -0.17, 0.05, 0.25, 0.36, 0.43, 0.45, 0.37, 0.43, 0.45, 0.36, 0.36, 0.2, -0.05];
const EB_z200_lssDash = [0.02, 0.09, 0.01, -0.17, -0.24, -0.16, 0.03, 0.21, 0.3, 0.35, 0.36, 0.3, 0.33, 0.34, 0.28, 0.28, 0.15, -0.03];
const EB_z200_totLine = [0.0, 0.07, 0.01, -0.12, -0.17, -0.1, 0.1, 0.3, 0.4, 0.47, 0.49, 0.42, 0.48, 0.5, 0.42, 0.43, 0.28, 0.1];
const EB_z200_totDash = [0.0, 0.06, 0.01, -0.12, -0.16, -0.1, 0.08, 0.26, 0.34, 0.38, 0.38, 0.35, 0.37, 0.38, 0.33, 0.34, 0.22, 0.1];

const EE_z200_lss = [-0.36, 0.07, -0.12, 0.25, -0.25, -0.42, -0.25, 0.64, -0.14, 0.86, 1.22, 0.6, 0.42, 0.75, -0.67, 2.6, -0.63, -1.46, -0.3, -1.18, -0.92];
const EE_z200_lssErr = [0.15, 0.1, 0.1, 0.12, 0.15, 0.2, 0.3, 0.3, 0.3, 0.45, 0.5, 0.6, 0.7, 0.9, 1.05, 1.4, 1.2, 0.85, 0.9, 1.3, 1.35];
const EE_z200_tot = [-0.36, 0.03, -0.14, 0.2, -0.33, -0.54, -0.34, 0.47, -0.34, 0.66, 1.07, 0.42, 0.31, 0.64, -0.48, 2.8, -0.42, -1.11, -0.25, -0.63, -0.54];
const EE_z200_totErr = [0.15, 0.1, 0.1, 0.12, 0.15, 0.2, 0.3, 0.3, 0.3, 0.45, 0.5, 0.6, 0.7, 0.9, 1.0, 1.6, 1.05, 0.75, 0.9, 1.1, 1.1];
const EE_z200_pb = [-0.02, -0.01, -0.03, -0.03, -0.06, -0.12, -0.08, -0.18, -0.15, -0.2, -0.15, -0.19, -0.12, -0.12, 0.19, 0.01, 0.21, 0.36, -0.24, 0.56, 0.39];
const EE_z200_pbLine = [-0.03, -0.03, -0.03, -0.03, -0.03, -0.03, -0.03, -0.03, -0.03, -0.03, -0.03, -0.03, -0.03, -0.03, -0.03, -0.02, -0.02, -0.01, 0.01, 0.03, 0.05, 0.1, 0.15];
const EE_z200_lssLine = [-0.02, 0.05, 0.2, 0.25, 0.0, 0.12, 0.0, 0.05, -0.02, -0.05, -0.12, -0.2, -0.25, -0.27, -0.33, -0.32, -0.35, -0.42, -0.6, -0.4, -0.65, -0.78, -0.82];
const EE_z200_lssDash = [-0.02, 0.05, 0.2, 0.25, 0.0, 0.12, 0.0, 0.05, -0.02, -0.05, -0.1, -0.17, -0.22, -0.23, -0.28, -0.27, -0.3, -0.36, -0.5, -0.3, -0.55, -0.6, -0.62];
const EE_z200_totLine = [-0.04, 0.03, 0.18, 0.23, -0.02, 0.1, -0.02, 0.03, -0.04, -0.06, -0.12, -0.2, -0.25, -0.27, -0.32, -0.3, -0.32, -0.38, -0.5, -0.35, -0.55, -0.65, -0.65];
const EE_z200_totDash = [-0.04, 0.03, 0.18, 0.23, -0.02, 0.1, -0.02, 0.03, -0.04, -0.05, -0.1, -0.17, -0.22, -0.23, -0.27, -0.25, -0.28, -0.32, -0.42, -0.3, -0.45, -0.5, -0.48];

const MV_z200_lss = [-0.84, -0.5, -0.8, -1.21, -1.32, -1.09, -1.09, -0.87, -0.89, -0.47, -0.21, 0.02, 0.18, 0.28, -0.19, 0.24, -0.36, -0.69, -0.9, -0.8, -1.08];
const MV_z200_tot = [-0.4, -0.14, -0.41, -0.73, -0.87, -0.72, -0.73, -0.58, -0.67, -0.36, -0.18, 0.05, 0.18, 0.25, -0.18, 0.24, -0.21, -0.57, -0.7, -0.58, -0.86];
const MV_z200_err = [0.15, 0.12, 0.1, 0.08, 0.08, 0.08, 0.1, 0.08, 0.08, 0.08, 0.1, 0.1, 0.12, 0.15, 0.15, 0.15, 0.18, 0.15, 0.2, 0.22, 0.25];
const MV_z200_pb = [0.39, 0.37, 0.41, 0.49, 0.45, 0.4, 0.36, 0.3, 0.23, 0.11, 0.05, 0.07, 0.0, -0.02, -0.02, 0.0, 0.14, 0.13, 0.21, 0.23, 0.24];
const MV_z200_pbLine = [0.33, 0.35, 0.38, 0.48, 0.4, 0.3, 0.18, 0.07, 0.02, 0.0, 0.01, 0.03, 0.06, 0.1];
const MV_z200_lssLine = [-0.62, -0.55, -0.75, -1.1, -1.15, -0.95, -0.65, -0.3, -0.03, 0.1, 0.0, -0.25, -0.35, -0.6];
const MV_z200_lssDash = [-0.6, -0.53, -0.72, -1.05, -1.12, -0.92, -0.62, -0.28, -0.02, 0.1, 0.0, -0.23, -0.33, -0.55];
const MV_z200_totLine = [-0.45, -0.38, -0.5, -0.7, -0.78, -0.68, -0.48, -0.22, 0.0, 0.12, 0.02, -0.2, -0.3, -0.52];
const MV_z200_totDash = [-0.43, -0.36, -0.48, -0.68, -0.75, -0.65, -0.46, -0.2, 0.0, 0.12, 0.03, -0.18, -0.27, -0.45];

// ---------------------------------------------------------------------------
// Panel table assembled from the arrays above
// ---------------------------------------------------------------------------
function panel(lss, lssErr, tot, totErr, pb, pbLine, lssLine, lssDash, totLine, totDash) {
  return { lss, lssErr, tot, totErr, pb, pbLine, lssLine, lssDash, totLine, totDash };
}
const PANELS = [
  [
    panel(TT_z035_lss, TT_z035_err, TT_z035_tot, TT_z035_err, TT_z035_pb, TT_z035_pbLine, TT_z035_lssLine, TT_z035_lssDash, TT_z035_totLine, TT_z035_totDash),
    panel(EB_z035_lss, EB_z035_lssErr, EB_z035_tot, EB_z035_totErr, EB_z035_pb, EB_z035_pbLine, EB_z035_lssLine, EB_z035_lssDash, EB_z035_totLine, EB_z035_totDash),
    panel(EE_z035_lss, EE_z035_lssErr, EE_z035_tot, EE_z035_totErr, EE_z035_pb, EE_z035_pbLine, EE_z035_lssLine, EE_z035_lssDash, EE_z035_totLine, EE_z035_totDash),
    panel(MV_z035_lss, MV_z035_err, MV_z035_tot, MV_z035_err, MV_z035_pb, MV_z035_pbLine, MV_z035_lssLine, MV_z035_lssDash, MV_z035_totLine, MV_z035_totDash)
  ],
  [
    panel(TT_z060_lss, TT_z060_err, TT_z060_tot, TT_z060_err, TT_z060_pb, TT_z060_pbLine, TT_z060_lssLine, TT_z060_lssDash, TT_z060_totLine, TT_z060_totDash),
    panel(EB_z060_lss, EB_z060_lssErr, EB_z060_tot, EB_z060_totErr, EB_z060_pb, EB_z060_pbLine, EB_z060_lssLine, EB_z060_lssDash, EB_z060_totLine, EB_z060_totDash),
    panel(EE_z060_lss, EE_z060_lssErr, EE_z060_tot, EE_z060_totErr, EE_z060_pb, EE_z060_pbLine, EE_z060_lssLine, EE_z060_lssDash, EE_z060_totLine, EE_z060_totDash),
    panel(MV_z060_lss, MV_z060_err, MV_z060_tot, MV_z060_err, MV_z060_pb, MV_z060_pbLine, MV_z060_lssLine, MV_z060_lssDash, MV_z060_totLine, MV_z060_totDash)
  ],
  [
    panel(TT_z100_lss, TT_z100_err, TT_z100_tot, TT_z100_err, TT_z100_pb, TT_z100_pbLine, TT_z100_lssLine, TT_z100_lssDash, TT_z100_totLine, TT_z100_totDash),
    panel(EB_z100_lss, EB_z100_lssErr, EB_z100_tot, EB_z100_totErr, EB_z100_pb, EB_z100_pbLine, EB_z100_lssLine, EB_z100_lssDash, EB_z100_totLine, EB_z100_totDash),
    panel(EE_z100_lss, EE_z100_lssErr, EE_z100_tot, EE_z100_totErr, EE_z100_pb, EE_z100_pbLine, EE_z100_lssLine, EE_z100_lssDash, EE_z100_totLine, EE_z100_totDash),
    panel(MV_z100_lss, MV_z100_err, MV_z100_tot, MV_z100_err, MV_z100_pb, MV_z100_pbLine, MV_z100_lssLine, MV_z100_lssDash, MV_z100_totLine, MV_z100_totDash)
  ],
  [
    panel(TT_z200_lss, TT_z200_err, TT_z200_tot, TT_z200_err, TT_z200_pb, TT_z200_pbLine, TT_z200_lssLine, TT_z200_lssDash, TT_z200_totLine, TT_z200_totDash),
    panel(EB_z200_lss, EB_z200_lssErr, EB_z200_tot, EB_z200_totErr, EB_z200_pb, EB_z200_pbLine, EB_z200_lssLine, EB_z200_lssDash, EB_z200_totLine, EB_z200_totDash),
    panel(EE_z200_lss, EE_z200_lssErr, EE_z200_tot, EE_z200_totErr, EE_z200_pb, EE_z200_pbLine, EE_z200_lssLine, EE_z200_lssDash, EE_z200_totLine, EE_z200_totDash),
    panel(MV_z200_lss, MV_z200_err, MV_z200_tot, MV_z200_err, MV_z200_pb, MV_z200_pbLine, MV_z200_lssLine, MV_z200_lssDash, MV_z200_totLine, MV_z200_totDash)
  ]
];

const EST_CFG = {
  TT: { domain: [-5, 5], ticks: Y_TICKS_TT, fmt: d3.format("d"), knots: KNOTS_SMOOTH, pbErr: PB_ERR_TT },
  EB: { domain: [-1.5, 1.0], ticks: Y_TICKS_EB, fmt: d3.format(".1f"), knots: KNOTS_EB, pbErr: PB_ERR_EB },
  EE: { domain: [-5, 2], ticks: Y_TICKS_POL, fmt: d3.format("d"), knots: KNOTS_EE, pbErr: PB_ERR_EE },
  MV: { domain: [-5, 2], ticks: Y_TICKS_POL, fmt: d3.format("d"), knots: KNOTS_SMOOTH, pbErr: PB_ERR_MV }
};

// ---------------------------------------------------------------------------
// Layout and styling
// ---------------------------------------------------------------------------
const COL_X = [74, 358, 641.5, 925];
const ROW_Y = [40, 417, 793, 1170];
const PW = 236, PH = 274.5;
const C_LSS = "#1f77b4", C_PB = "#ff7f0e", C_TOT = "#2ca02c";
const TICK_FS = 16.5, TITLE_FS = 19.5, YLABEL_FS = 20.5, SO_FS = 18.5;

const svg = d3.select("#fig");
svg.append("rect").attr("width", 1171).attr("height", 1493).attr("fill", "#fff");

const x = d3.scaleLinear().domain([20, 3500]).range([0, PW]);

function drawErrorbars(g, y, vals, errs, color) {
  const pts = L_BINS.map((L, i) => ({ L, v: vals[i], e: errs[i] }));
  g.append("g").selectAll("line").data(pts).join("line")
    .attr("x1", d => x(d.L)).attr("x2", d => x(d.L))
    .attr("y1", d => y(d.v - d.e)).attr("y2", d => y(d.v + d.e))
    .attr("stroke", color).attr("stroke-width", 2);
  g.append("g").selectAll("circle").data(pts).join("circle")
    .attr("cx", d => x(d.L)).attr("cy", d => y(d.v)).attr("r", 4)
    .attr("fill", color);
}

function drawCurve(g, y, knots, vals, color, dashed) {
  const line = d3.line().x(d => x(d[0])).y(d => y(d[1])).curve(d3.curveMonotoneX);
  g.append("path").datum(knots.map((k, i) => [k, vals[i]]))
    .attr("d", line).attr("fill", "none").attr("stroke", color)
    .attr("stroke-width", 1.6)
    .attr("stroke-dasharray", dashed ? "6,3" : null);
}

// N_L^{3/2} / C_L^{κ^{CMB}κ} [%], set piece by piece and rotated
function drawYLabel(parent, bx, cy) {
  const g = parent.append("g").attr("transform", `translate(${bx},${cy}) rotate(-90)`);
  const inner = g.append("g");
  const fs = YLABEL_FS, sc = fs * 0.7, ss = fs * 0.5;
  const put = (txt, size, dy, italic, at) => {
    const t = inner.append("text").attr("x", at).attr("y", dy)
      .attr("font-size", size).attr("font-style", italic ? "italic" : "normal").text(txt);
    return t.node().getComputedTextLength();
  };
  let cur = 0;
  cur += put("N", fs, 0, true, cur) + 0.5;
  let s0 = cur;
  const a1 = put("L", sc, fs * 0.22, true, s0);
  const a2 = put("3/2", sc, -fs * 0.42, false, s0 + 1);
  cur = s0 + Math.max(a1, a2 + 1) + 0.5;
  cur += put("/", fs, 0, false, cur);
  cur += put("C", fs, 0, true, cur) + 0.5;
  s0 = cur;
  const b1 = put("L", sc, fs * 0.22, true, s0);
  let sx = s0 + 1;
  sx += put("\u03BA", sc, -fs * 0.42, true, sx);
  sx += put("CMB", ss, -fs * 0.42 - sc * 0.38, true, sx);
  sx += put("\u03BA", sc, -fs * 0.42, true, sx);
  cur = Math.max(s0 + b1, sx) + fs * 0.32;
  cur += put("[%]", fs, 0, false, cur);
  inner.attr("transform", `translate(${-cur / 2},0)`);
}

function drawLegend(g) {
  const bx = 97.7, by = 194.3, bw = 130.6, bh = 72.7;
  const lg = g.append("g");
  lg.append("rect").attr("x", bx).attr("y", by).attr("width", bw).attr("height", bh)
    .attr("rx", 3).attr("fill", "#fff").attr("fill-opacity", 0.8)
    .attr("stroke", "#cccccc").attr("stroke-width", 1);
  const colors = [C_LSS, C_PB, C_TOT];
  SERIES_LABELS.forEach((lab, i) => {
    const cy = by + 13.7 + i * 22.5;
    lg.append("line").attr("x1", bx + 21.3).attr("x2", bx + 21.3)
      .attr("y1", cy - 7.5).attr("y2", cy + 7.5)
      .attr("stroke", colors[i]).attr("stroke-width", 2);
    lg.append("circle").attr("cx", bx + 21.3).attr("cy", cy).attr("r", 4).attr("fill", colors[i]);
    lg.append("text").attr("x", bx + 49.5).attr("y", cy).attr("dy", "0.36em")
      .attr("font-size", 15.5).text(lab);
  });
}

REDSHIFTS.forEach((z, r) => {
  // row heading
  svg.append("text").attr("x", 599.5).attr("y", ROW_Y[r] - 20.5)
    .attr("text-anchor", "middle").attr("font-size", TITLE_FS).text("z=" + z);

  ESTIMATORS.forEach((est, c) => {
    const cfg = EST_CFG[est];
    const d = PANELS[r][c];
    const y = d3.scaleLinear().domain(cfg.domain).range([PH, 0]);
    const g = svg.append("g").attr("transform", `translate(${COL_X[c]},${ROW_Y[r]})`);
    const clipId = `clip-${r}-${c}`;
    g.append("clipPath").attr("id", clipId)
      .append("rect").attr("width", PW).attr("height", PH);

    // grid
    const grid = g.append("g");
    grid.selectAll(".gx").data(X_TICKS).join("line")
      .attr("x1", t => x(t)).attr("x2", t => x(t)).attr("y1", 0).attr("y2", PH)
      .attr("stroke", "#b0b0b0").attr("stroke-width", 0.8);
    grid.selectAll(".gy").data(cfg.ticks).join("line")
      .attr("x1", 0).attr("x2", PW).attr("y1", t => y(t)).attr("y2", t => y(t))
      .attr("stroke", "#b0b0b0").attr("stroke-width", 0.8);

    const plot = g.append("g").attr("clip-path", `url(#${clipId})`);
    // theory curves
    drawCurve(plot, y, cfg.knots, d.pbLine, C_PB, false);
    drawCurve(plot, y, cfg.knots, d.lssLine, C_LSS, false);
    drawCurve(plot, y, cfg.knots, d.lssDash, C_LSS, true);
    drawCurve(plot, y, cfg.knots, d.totLine, C_TOT, false);
    drawCurve(plot, y, cfg.knots, d.totDash, C_TOT, true);
    // measured points
    drawErrorbars(plot, y, d.lss, d.lssErr, C_LSS);
    drawErrorbars(plot, y, d.pb, cfg.pbErr, C_PB);
    drawErrorbars(plot, y, d.tot, d.totErr, C_TOT);

    // axes
    const xAxis = d3.axisBottom(x).tickValues(X_TICKS).tickFormat(d3.format("d"))
      .tickSize(4.5).tickPadding(3.5);
    const yAxis = d3.axisLeft(y).tickValues(cfg.ticks).tickFormat(cfg.fmt)
      .tickSize(4.5).tickPadding(3);
    const gx = g.append("g").attr("transform", `translate(0,${PH})`).call(xAxis);
    const gy = g.append("g").call(yAxis);
    [gx, gy].forEach(a => {
      a.select(".domain").remove();
      a.selectAll(".tick line").attr("stroke", "#000").attr("stroke-width", 1);
      a.selectAll(".tick text").attr("font-size", TICK_FS).attr("font-family", "DejaVu Sans").attr("fill", "#000");
    });
    g.append("rect").attr("width", PW).attr("height", PH)
      .attr("fill", "none").attr("stroke", "#000").attr("stroke-width", 1);

    // titles and labels
    g.append("text").attr("x", PW / 2).attr("y", -7).attr("text-anchor", "middle")
      .attr("font-size", TITLE_FS).text(est);
    g.append("text").attr("x", PW / 2).attr("y", PH + 43).attr("text-anchor", "middle")
      .attr("font-size", TITLE_FS).attr("font-style", "italic").text("L");

    if (est === "TT") {
      drawLegend(g);
      g.append("text").attr("x", 23).attr("y", PH - 12).attr("font-size", SO_FS).text(EXPERIMENT);
      drawYLabel(svg, 34, ROW_Y[r] + PH / 2);
    }
  });
});
</script>
</body>
</html>
